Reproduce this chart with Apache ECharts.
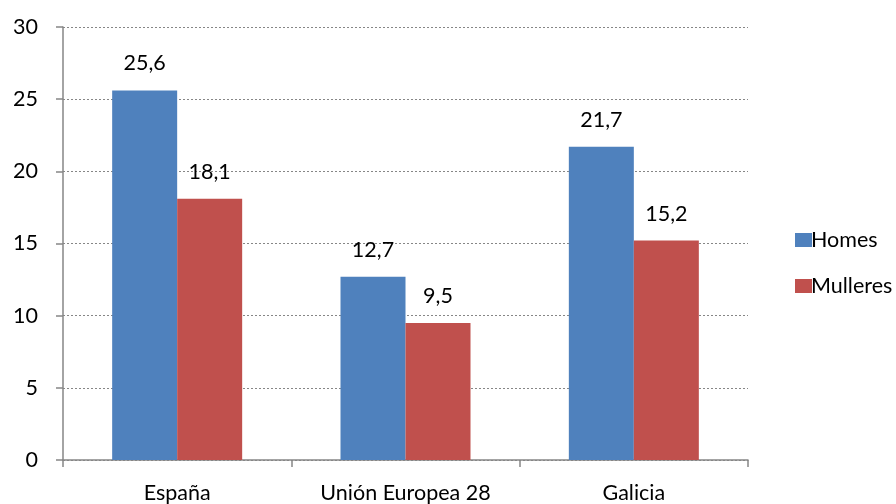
<!DOCTYPE html>
<html><head><meta charset="utf-8">
<script src="https://cdn.jsdelivr.net/npm/echarts@6/dist/echarts.min.js"></script>
<style>html,body{margin:0;padding:0;background:#fff}#c{width:896px;height:504px}</style>
</head><body><div id="c"></div>
<script>
var categories = ['España', 'Unión Europea 28', 'Galicia'];
var homes = [25.6, 12.7, 21.7];
var mulleres = [18.1, 9.5, 15.2];
var yTicks = [0, 5, 10, 15, 20, 25, 30];

var font = 'Lato, "Open Sans", sans-serif';
var fs = 21.5;
var chart = echarts.init(document.getElementById('c'));
function lbl(p){ return String(p.value.toFixed(1)).replace('.', ','); }
chart.setOption({
  animation: false,
  grid: {left: 63, right: 148, top: 27, bottom: 44},
  legend: {
    orient: 'vertical', left: 790, top: 224, itemGap: 24,
    itemWidth: 17, itemHeight: 14, icon: 'rect',
    textStyle: {fontFamily: font, fontSize: fs, color: '#000', padding: [0,0,0,-6]},
    data: ['Homes', 'Mulleres']
  },
  xAxis: {
    type: 'category', data: categories,
    axisLine: {lineStyle: {color: '#868686', width: 1.5}},
    axisTick: {show: true, length: 7, lineStyle: {color: '#868686', width: 1.5}},
    axisLabel: {fontFamily: font, fontSize: fs, color: '#000', margin: 22}
  },
  yAxis: {
    type: 'value', min: yTicks[0], max: yTicks[yTicks.length-1], interval: 5,
    axisLine: {show: true, lineStyle: {color: '#868686', width: 1.5}},
    axisTick: {show: true, length: 7, lineStyle: {color: '#868686', width: 1.5}},
    axisLabel: {fontFamily: font, fontSize: fs, color: '#000', margin: 25},
    splitLine: {lineStyle: {color: '#868686', type: [2, 2], width: 1}}
  },
  series: [
    {name: 'Homes', type: 'bar', data: homes, barWidth: 65, barGap: '0%',
     itemStyle: {color: '#4F81BD'},
     label: {show: true, position: 'top', distance: 16, formatter: lbl, fontFamily: font, fontSize: fs, color: '#000'}},
    {name: 'Mulleres', type: 'bar', data: mulleres, barWidth: 65,
     itemStyle: {color: '#C0504D'},
     label: {show: true, position: 'top', distance: 16, formatter: lbl, fontFamily: font, fontSize: fs, color: '#000'}}
  ]
});
</script></body></html>
